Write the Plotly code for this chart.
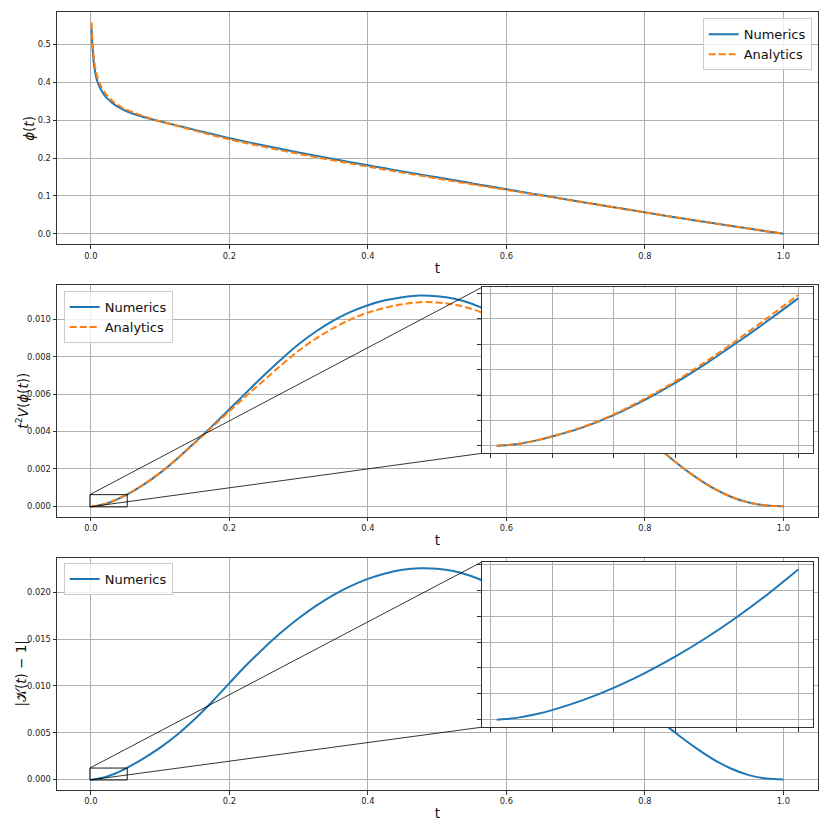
import plotly.graph_objects as go

# values
t = [0.001, 0.0025, 0.005, 0.0075, 0.01, 0.015, 0.02, 0.025, 0.03, 0.035, 0.04, 0.045,
     0.05, 0.075, 0.1, 0.125, 0.15, 0.175, 0.2, 0.225, 0.25, 0.275, 0.3, 0.325, 0.35, 0.375,
     0.4, 0.425, 0.45, 0.475, 0.5, 0.525, 0.55, 0.575, 0.6, 0.625, 0.65, 0.675, 0.7, 0.725,
     0.75, 0.775, 0.8, 0.825, 0.85, 0.875, 0.9, 0.925, 0.95, 0.975, 1.0]

phi_num = [0.540, 0.487, 0.440, 0.415, 0.399, 0.379, 0.365, 0.355, 0.347, 0.340, 0.3345, 0.3295,
           0.325, 0.309, 0.297, 0.2857, 0.2745, 0.2635, 0.2527, 0.2427, 0.2331, 0.2238, 0.2148,
           0.2060, 0.1974, 0.1890, 0.1808, 0.1728, 0.1648, 0.1569, 0.1490, 0.1411, 0.1332,
           0.1253, 0.1175, 0.1098, 0.1021, 0.0944, 0.0867, 0.0791, 0.0715, 0.0640, 0.0565,
           0.0491, 0.0418, 0.0346, 0.0275, 0.0205, 0.0136, 0.0068, 0.0]
phi_ana = [0.558, 0.502, 0.454, 0.427, 0.410, 0.388, 0.373, 0.362, 0.353, 0.345, 0.3395, 0.3335,
           0.329, 0.311, 0.297, 0.2847, 0.2725, 0.2605, 0.2495, 0.2393, 0.2296, 0.2203, 0.2113,
           0.2025, 0.1939, 0.1855, 0.1773, 0.1694, 0.1615, 0.1537, 0.1460, 0.1384, 0.1308,
           0.1233, 0.1159, 0.1086, 0.1012, 0.0938, 0.0863, 0.0789, 0.0714, 0.0640, 0.0565,
           0.0491, 0.0418, 0.0346, 0.0275, 0.0205, 0.0136, 0.0068, 0.0]

v_num = [0.0000005, 0.000003, 0.000010, 0.000022, 0.000037, 0.000073, 0.000121, 0.000180,
         0.000248, 0.000324, 0.000406, 0.000492, 0.000581, 0.00113, 0.00179, 0.00256, 0.00341,
         0.00429, 0.00519, 0.00611, 0.00701, 0.00787, 0.00867, 0.00935, 0.00993, 0.01040,
         0.01076, 0.01102, 0.01119, 0.01128, 0.01124, 0.01110, 0.01084, 0.01045, 0.01000,
         0.00943, 0.00876, 0.00800, 0.00718, 0.00632, 0.00545, 0.00459, 0.00376, 0.00296,
         0.00220, 0.00152, 0.00094, 0.00050, 0.00020, 0.00005, 0.0]
v_ana = [0.0000005, 0.000003, 0.000010, 0.000022, 0.000038, 0.000075, 0.000124, 0.000185,
         0.000254, 0.000332, 0.000416, 0.000504, 0.000594, 0.00114, 0.00180, 0.00256, 0.00339,
         0.00424, 0.00509, 0.00593, 0.00675, 0.00756, 0.00832, 0.00897, 0.00953, 0.01000,
         0.01036, 0.01062, 0.01081, 0.01092, 0.01090, 0.01079, 0.01056, 0.01020, 0.00980,
         0.00927, 0.00864, 0.00792, 0.00713, 0.00629, 0.00544, 0.00459, 0.00376, 0.00296,
         0.00220, 0.00152, 0.00094, 0.00050, 0.00020, 0.00005, 0.0]

k_num = [0.000001, 0.000006, 0.000021, 0.000045, 0.000075, 0.000152, 0.000247, 0.000359,
         0.000487, 0.000631, 0.000791, 0.000967, 0.001159, 0.00220, 0.00340, 0.00480, 0.00645,
         0.00830, 0.01030, 0.01225, 0.01405, 0.01572, 0.01722, 0.01855, 0.01970, 0.02066,
         0.02143, 0.02201, 0.02240, 0.02257, 0.02252, 0.02224, 0.02172, 0.02094, 0.01994,
         0.01874, 0.01737, 0.01587, 0.01427, 0.01261, 0.01093, 0.00927, 0.00765, 0.00610,
         0.00465, 0.00330, 0.00210, 0.00114, 0.00046, 0.00010, 0.0]

t_zoom = 0.05  # insets show t <= 0.05

BLUE = "#1f77b4"
ORANGE = "#ff7f0e"
GRID = "#b0b0b0"
FRAME = "#333333"
FONT = "DejaVu Sans"


def padded(lo, hi, frac=0.05):
    d = (hi - lo) * frac
    return [lo - d, hi + d]


def to_data(p, dom, rng):
    # paper fraction -> data value of an axis
    return rng[0] + (p - dom[0]) / (dom[1] - dom[0]) * (rng[1] - rng[0])


# domains (plot area fractions)
x_dom = [0.0, 1.0]
y_doms = [[0.7014, 1.0], [0.3511, 0.6492], [0.0, 0.2986]]
in_x_dom = [0.558, 0.9938]
in_y_doms = {2: [0.4327, 0.6459], 3: [0.0807, 0.2930]}

x_rng = padded(min(t), max(t))
y_rngs = [padded(0, max(phi_num + phi_ana)),
          padded(0, max(v_num + v_ana)),
          padded(0, max(k_num))]

idx = [i for i, tv in enumerate(t) if tv <= t_zoom]
tz = [t[i] for i in idx]
in_x_rng = padded(min(tz), max(tz))
in_y_rngs = {
    2: padded(min(v_num[i] for i in idx), max(max(v_num[i], v_ana[i]) for i in idx)),
    3: padded(min(k_num[i] for i in idx), max(k_num[i] for i in idx)),
}

fig = go.Figure()

line_num = dict(color=BLUE, width=2, shape="spline", smoothing=1)
line_ana = dict(color=ORANGE, width=2, dash="7px,3px", shape="spline", smoothing=1)

# panel 1
fig.add_trace(go.Scatter(x=t, y=phi_num, mode="lines", name="Numerics", line=line_num,
                         xaxis="x", yaxis="y", legend="legend"))
fig.add_trace(go.Scatter(x=t, y=phi_ana, mode="lines", name="Analytics", line=line_ana,
                         xaxis="x", yaxis="y", legend="legend"))
# panel 2
fig.add_trace(go.Scatter(x=t, y=v_num, mode="lines", name="Numerics", line=line_num,
                         xaxis="x2", yaxis="y2", legend="legend2"))
fig.add_trace(go.Scatter(x=t, y=v_ana, mode="lines", name="Analytics", line=line_ana,
                         xaxis="x2", yaxis="y2", legend="legend2"))
# panel 3
fig.add_trace(go.Scatter(x=t, y=k_num, mode="lines", name="Numerics", line=line_num,
                         xaxis="x3", yaxis="y3", legend="legend3"))
# insets
fig.add_trace(go.Scatter(x=tz, y=[v_num[i] for i in idx], mode="lines", line=line_num,
                         xaxis="x4", yaxis="y4", showlegend=False))
fig.add_trace(go.Scatter(x=tz, y=[v_ana[i] for i in idx], mode="lines", line=line_ana,
                         xaxis="x4", yaxis="y4", showlegend=False))
fig.add_trace(go.Scatter(x=tz, y=[k_num[i] for i in idx], mode="lines", line=line_num,
                         xaxis="x5", yaxis="y5", showlegend=False))

tick_font = dict(family=FONT, size=8.3, color="#222222")
common = dict(showgrid=True, gridcolor=GRID, gridwidth=0.8, zeroline=False,
              showline=True, linecolor=FRAME, linewidth=1, mirror=True,
              ticks="outside", ticklen=3.5, tickwidth=0.8, tickcolor=FRAME,
              tickfont=tick_font)

y_titles = ["<i>ϕ</i>(<i>t</i>)",
            "<i>t</i><sup>2</sup><i>V</i>(<i>ϕ</i>(<i>t</i>))",
            "|𝒦(<i>t</i>) − 1|"]
y_title_x = [-0.0372, -0.0463, -0.0463]
y_formats = [(0.1, ".1f"), (0.002, ".3f"), (0.005, ".3f")]

layout = {}
annotations = []
for n in range(3):
    s = "" if n == 0 else str(n + 1)
    layout["xaxis" + s] = dict(common, domain=x_dom, range=x_rng, anchor="y" + s,
                               tick0=0, dtick=0.2, tickformat=".1f",
                               title=dict(text="t", font=dict(family=FONT, size=13.5, color="#111"),
                                          standoff=3))
    layout["yaxis" + s] = dict(common, domain=y_doms[n], range=y_rngs[n], anchor="x" + s,
                               tick0=0, dtick=y_formats[n][0], tickformat=y_formats[n][1])
    annotations.append(dict(text=y_titles[n], xref="paper", yref="paper",
                            x=y_title_x[n], y=sum(y_doms[n]) / 2, textangle=-90,
                            xanchor="center", yanchor="middle", showarrow=False,
                            font=dict(family=FONT, size=13.5, color="#111")))

for k, num in ((2, 4), (3, 5)):
    layout["xaxis%d" % num] = dict(common, domain=in_x_dom, range=in_x_rng, anchor="y%d" % num,
                                   tick0=0, dtick=0.01, showticklabels=False)
    layout["yaxis%d" % num] = dict(common, domain=in_y_doms[k], range=in_y_rngs[k],
                                   anchor="x%d" % num, tick0=0,
                                   dtick=0.0001 if k == 2 else 0.0002, showticklabels=False)

# zoom rectangle and connector lines (mark_inset style)
shapes = []
for k in (2, 3):
    xr, yr = in_x_rng, in_y_rngs[k]
    main_y_dom, main_y_rng = y_doms[k - 1], y_rngs[k - 1]
    ref = dict(xref="x%d" % k, yref="y%d" % k)
    shapes.append(dict(type="rect", x0=xr[0], x1=xr[1], y0=yr[0], y1=yr[1],
                       line=dict(color="black", width=0.9), **ref))
    cx = to_data(in_x_dom[0], x_dom, x_rng)
    cy_top = to_data(in_y_doms[k][1], main_y_dom, main_y_rng)
    cy_bot = to_data(in_y_doms[k][0], main_y_dom, main_y_rng)
    shapes.append(dict(type="line", x0=xr[0], y0=yr[1], x1=cx, y1=cy_top,
                       line=dict(color="black", width=0.8), **ref))
    shapes.append(dict(type="line", x0=xr[0], y0=yr[0], x1=cx, y1=cy_bot,
                       line=dict(color="black", width=0.8), **ref))

legend_style = dict(bgcolor="rgba(255,255,255,0.8)", bordercolor="#cccccc", borderwidth=1,
                    font=dict(family=FONT, size=13, color="#111"), itemwidth=30,
                    tracegroupgap=0)

# page body keeps an 8px margin, so the figure is 814px and sits at (8, 8)
fig.update_layout(
    layout,
    width=814, height=814,
    margin=dict(l=49.3, r=3, t=3, b=30.7),
    paper_bgcolor="white", plot_bgcolor="white",
    font=dict(family=FONT, color="#111"),
    shapes=shapes,
    annotations=annotations,
    legend=dict(legend_style, x=0.9917, y=0.9919, xanchor="right", yanchor="top"),
    legend2=dict(legend_style, x=0.0088, y=0.6412, xanchor="left", yanchor="top"),
    legend3=dict(legend_style, x=0.0088, y=0.2916, xanchor="left", yanchor="top"),
)

fig.write_html("out.html")
